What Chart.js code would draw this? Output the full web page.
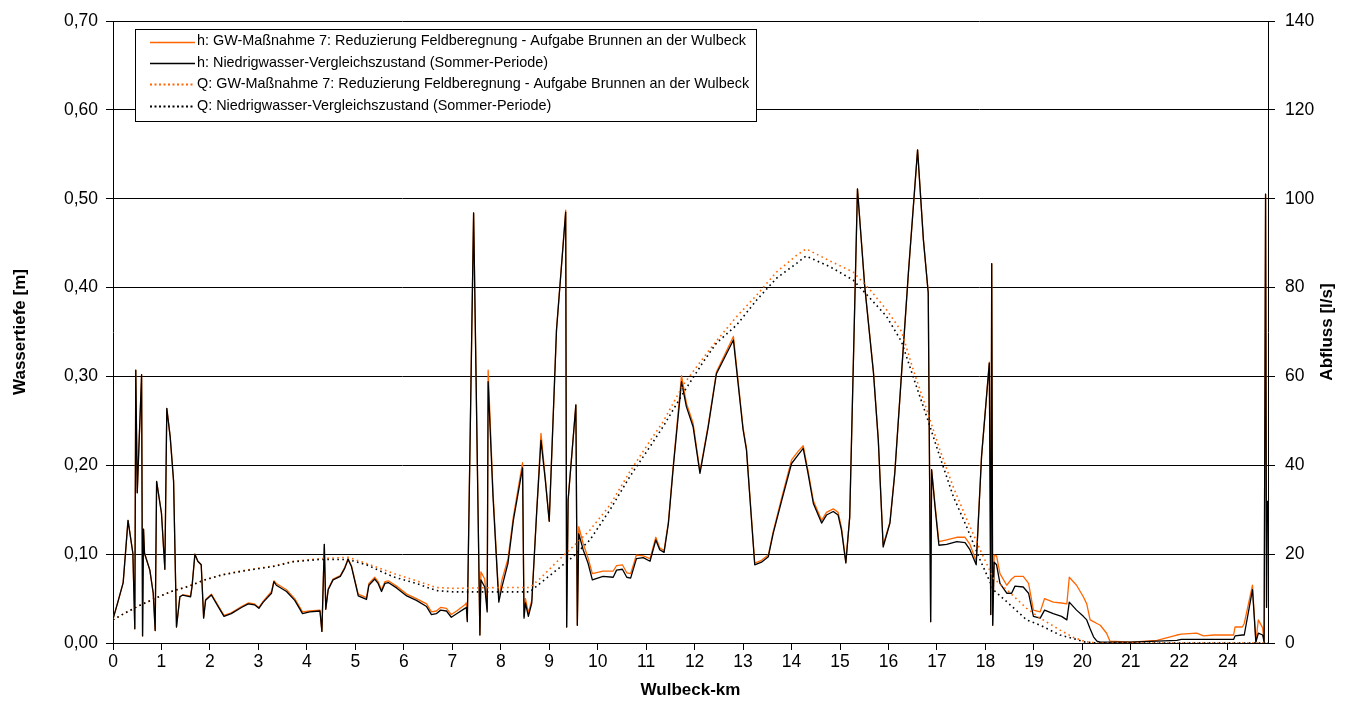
<!DOCTYPE html>
<html lang="de">
<head>
<meta charset="UTF-8">
<title>Wulbeck - Wassertiefe und Abfluss</title>
<style>
  html, body { margin: 0; padding: 0; background: #fff; }
</style>
</head>
<body>
<canvas id="myChart" width="1350" height="702"></canvas>

<script src="https://cdn.jsdelivr.net/npm/chart.js"></script>
<script>
// Stationierung der Wassertiefen [km]
const kmH = [
  0.00, 0.10, 0.21, 0.31, 0.41, 0.45, 0.47, 0.50, 0.59, 0.61,
  0.63, 0.65, 0.76, 0.83, 0.87, 0.90, 1.00, 1.07, 1.11, 1.18,
  1.25, 1.31, 1.38, 1.44, 1.60, 1.63, 1.69, 1.75, 1.82, 1.87,
  1.91, 2.03, 2.17, 2.29, 2.44, 2.65, 2.79, 2.92, 3.01, 3.10,
  3.27, 3.32, 3.37, 3.58, 3.75, 3.91, 4.06, 4.27, 4.31, 4.36,
  4.39, 4.44, 4.54, 4.69, 4.78, 4.85, 4.92, 5.01, 5.06, 5.23,
  5.28, 5.40, 5.47, 5.54, 5.61, 5.68, 5.85, 6.06, 6.26, 6.47,
  6.57, 6.67, 6.76, 6.88, 6.98, 7.09, 7.26, 7.29, 7.31, 7.44,
  7.57, 7.59, 7.67, 7.72, 7.74, 7.84, 7.96, 8.02, 8.15, 8.26,
  8.45, 8.48, 8.51, 8.57, 8.64, 8.74, 8.83, 8.92, 9.00, 9.15,
  9.34, 9.36, 9.39, 9.55, 9.58, 9.61, 9.70, 9.80, 9.89, 10.11,
  10.32, 10.39, 10.51, 10.60, 10.68, 10.80, 10.94, 11.08, 11.20, 11.28,
  11.37, 11.46, 11.56, 11.73, 11.83, 11.97, 12.11, 12.28, 12.45, 12.80,
  13.00, 13.07, 13.24, 13.38, 13.52, 13.62, 13.80, 14.00, 14.14, 14.24,
  14.34, 14.45, 14.62, 14.72, 14.86, 14.96, 15.03, 15.12, 15.20, 15.36,
  15.51, 15.69, 15.79, 15.89, 16.03, 16.13, 16.27, 16.41, 16.60, 16.72,
  16.82, 16.87, 16.89, 16.96, 17.04, 17.20, 17.41, 17.58, 17.68, 17.81,
  17.92, 18.08, 18.11, 18.13, 18.15, 18.18, 18.23, 18.30, 18.44, 18.54,
  18.61, 18.78, 18.89, 18.99, 19.13, 19.22, 19.40, 19.57, 19.68, 19.73,
  19.88, 20.02, 20.09, 20.16, 20.23, 20.30, 20.37, 20.50, 20.57, 21.00,
  21.54, 21.95, 22.04, 22.36, 22.50, 22.71, 23.12, 23.15, 23.30, 23.34,
  23.51, 23.58, 23.63, 23.72, 23.75, 23.78, 23.80, 23.82
];

// h: Niedrigwasser-Vergleichszustand [m]
const hVergleich = [
  0.027, 0.046, 0.068, 0.138, 0.101, 0.016, 0.307, 0.169, 0.302, 0.008,
  0.128, 0.101, 0.082, 0.056, 0.014, 0.182, 0.146, 0.083, 0.264, 0.232,
  0.182, 0.018, 0.052, 0.054, 0.052, 0.063, 0.100, 0.092, 0.088, 0.028,
  0.048, 0.054, 0.041, 0.030, 0.033, 0.040, 0.044, 0.043, 0.039, 0.046,
  0.056, 0.069, 0.065, 0.058, 0.048, 0.033, 0.035, 0.036, 0.013, 0.111,
  0.038, 0.060, 0.071, 0.075, 0.084, 0.094, 0.086, 0.065, 0.053, 0.049,
  0.065, 0.072, 0.067, 0.058, 0.067, 0.068, 0.062, 0.053, 0.048, 0.041,
  0.032, 0.033, 0.037, 0.036, 0.029, 0.033, 0.039, 0.040, 0.024, 0.484,
  0.009, 0.071, 0.063, 0.035, 0.294, 0.165, 0.046, 0.062, 0.090, 0.138,
  0.197, 0.028, 0.045, 0.030, 0.045, 0.146, 0.228, 0.183, 0.137, 0.352,
  0.485, 0.018, 0.161, 0.268, 0.020, 0.123, 0.105, 0.090, 0.071, 0.075,
  0.074, 0.082, 0.083, 0.074, 0.073, 0.095, 0.096, 0.092, 0.116, 0.105,
  0.102, 0.135, 0.198, 0.294, 0.266, 0.243, 0.191, 0.243, 0.303, 0.341,
  0.240, 0.217, 0.088, 0.091, 0.097, 0.123, 0.161, 0.202, 0.212, 0.219,
  0.191, 0.157, 0.135, 0.144, 0.148, 0.144, 0.127, 0.090, 0.142, 0.511,
  0.401, 0.304, 0.228, 0.108, 0.135, 0.191, 0.304, 0.416, 0.555, 0.454,
  0.394, 0.024, 0.195, 0.153, 0.110, 0.111, 0.114, 0.113, 0.105, 0.088,
  0.210, 0.315, 0.032, 0.427, 0.020, 0.091, 0.088, 0.067, 0.056, 0.056,
  0.064, 0.063, 0.056, 0.030, 0.028, 0.037, 0.033, 0.030, 0.026, 0.046,
  0.037, 0.030, 0.026, 0.016, 0.007, 0.002, 0.001, 0.001, 0.001, 0.001,
  0.002, 0.003, 0.004, 0.004, 0.004, 0.004, 0.004, 0.008, 0.009, 0.009,
  0.060, 0.001, 0.011, 0.009, 0.001, 0.505, 0.040, 0.160
];

// h: GW-Massnahme 7 [m]
const hMassnahme = [
  0.027, 0.046, 0.068, 0.138, 0.101, 0.016, 0.307, 0.169, 0.302, 0.008,
  0.128, 0.101, 0.082, 0.056, 0.014, 0.182, 0.146, 0.083, 0.264, 0.232,
  0.182, 0.018, 0.052, 0.054, 0.053, 0.064, 0.100, 0.092, 0.088, 0.029,
  0.049, 0.055, 0.042, 0.031, 0.034, 0.041, 0.045, 0.044, 0.040, 0.047,
  0.058, 0.070, 0.067, 0.060, 0.050, 0.035, 0.036, 0.037, 0.013, 0.111,
  0.038, 0.061, 0.072, 0.076, 0.085, 0.095, 0.087, 0.066, 0.055, 0.051,
  0.067, 0.074, 0.069, 0.060, 0.069, 0.070, 0.064, 0.055, 0.050, 0.044,
  0.035, 0.036, 0.040, 0.039, 0.032, 0.036, 0.043, 0.045, 0.026, 0.484,
  0.009, 0.080, 0.072, 0.038, 0.307, 0.170, 0.050, 0.070, 0.095, 0.142,
  0.203, 0.030, 0.050, 0.034, 0.048, 0.146, 0.236, 0.185, 0.137, 0.352,
  0.487, 0.018, 0.161, 0.268, 0.020, 0.131, 0.112, 0.096, 0.078, 0.081,
  0.081, 0.087, 0.088, 0.079, 0.078, 0.099, 0.098, 0.095, 0.119, 0.107,
  0.104, 0.137, 0.200, 0.301, 0.270, 0.247, 0.193, 0.245, 0.305, 0.345,
  0.242, 0.219, 0.090, 0.093, 0.099, 0.125, 0.164, 0.206, 0.216, 0.222,
  0.194, 0.160, 0.138, 0.147, 0.151, 0.147, 0.130, 0.091, 0.142, 0.511,
  0.402, 0.305, 0.228, 0.110, 0.136, 0.192, 0.304, 0.416, 0.555, 0.454,
  0.394, 0.024, 0.195, 0.156, 0.114, 0.116, 0.119, 0.119, 0.111, 0.092,
  0.210, 0.316, 0.032, 0.427, 0.020, 0.099, 0.098, 0.078, 0.065, 0.072,
  0.075, 0.075, 0.067, 0.037, 0.035, 0.050, 0.046, 0.045, 0.044, 0.074,
  0.065, 0.052, 0.044, 0.026, 0.024, 0.022, 0.020, 0.011, 0.002, 0.001,
  0.003, 0.009, 0.010, 0.011, 0.008, 0.009, 0.009, 0.018, 0.018, 0.022,
  0.065, 0.001, 0.026, 0.017, 0.001, 0.505, 0.040, null
];

// Stationierung der Abfluesse [km]
const kmQ = [
  0.00, 0.24, 0.52, 0.86, 1.20, 1.55, 1.89, 2.24, 2.58, 2.92,
  3.34, 3.72, 4.27, 4.85, 5.23, 5.78, 6.26, 6.67, 7.02, 7.98,
  8.60, 8.81, 9.15, 9.49, 9.84, 10.25, 10.66, 11.08, 11.35, 11.76,
  12.18, 12.45, 12.87, 13.28, 13.69, 14.11, 14.30, 14.79, 15.27, 15.62,
  15.96, 16.27, 16.51, 16.79, 17.06, 17.34, 17.61, 17.89, 18.17, 18.44,
  18.85, 19.13, 19.54, 19.81, 20.06, 20.30, 23.83
];

// Q: Niedrigwasser-Vergleichszustand [l/s]
const qVergleich = [
  5.2, 6.7, 8.3, 10.0, 11.6, 12.7, 14.2, 15.3, 16.0, 16.6,
  17.3, 18.3, 18.8, 18.8, 17.6, 14.9, 13.4, 11.8, 11.5, 11.5,
  11.5, 13.4, 16.4, 19.4, 23.2, 29.9, 37.4, 44.2, 48.7, 56.2,
  63.3, 67.5, 71.6, 77.2, 82.1, 85.5, 87.1, 84.7, 81.7, 77.6,
  73.5, 67.8, 59.9, 50.9, 41.9, 32.9, 26.2, 18.7, 11.9, 9.3,
  5.2, 4.0, 1.8, 1.0, 0.2, 0, 0
];

// Q: GW-Massnahme 7 [l/s]
const qMassnahme = [
  5.2, 6.7, 8.3, 10.0, 11.6, 12.8, 14.2, 15.3, 16.1, 16.7,
  17.4, 18.4, 19.0, 19.3, 17.9, 15.7, 14.0, 12.5, 12.3, 12.5,
  12.5, 14.5, 18.2, 21.7, 25.4, 31.0, 38.5, 45.5, 49.8, 58.0,
  64.2, 68.0, 73.5, 78.3, 83.5, 87.3, 88.7, 86.0, 83.5, 79.5,
  75.0, 70.1, 61.5, 52.5, 43.5, 35.0, 28.0, 21.0, 14.5, 12.0,
  7.8, 5.6, 2.9, 1.3, 0.3, 0, 0
];

// Beschriftung der km-Achse (je Teilstrich eine)
const xTickLabels = ['0', '1', '2', '3', '4', '5', '6', '7', '8', '9', '10', '11',
  '12', '13', '14', '15', '16', '17', '18', '19', '20', '21', '22', '24'];

const seriesLabels = [
  'h: GW-Maßnahme 7: Reduzierung Feldberegnung - Aufgabe Brunnen an der Wulbeck',
  'h: Niedrigwasser-Vergleichszustand (Sommer-Periode)',
  'Q: GW-Maßnahme 7: Reduzierung Feldberegnung - Aufgabe Brunnen an der Wulbeck',
  'Q: Niedrigwasser-Vergleichszustand (Sommer-Periode)'
];

const ORANGE = '#ff6600';
const FONT = '"Liberation Sans", Arial, sans-serif';

function pairs(xs, ys) {
  return xs.map((x, i) => ({ x: x, y: ys[i] }));
}

// Legende als Kasten im Diagramm
const legendBox = {
  id: 'legendBox',
  afterDraw(chart) {
    const ctx = chart.ctx;
    const area = chart.chartArea;
    const left = area.left + 22, top = area.top + 8;
    const w = 621, h = 92;
    ctx.save();
    ctx.fillStyle = '#fff';
    ctx.fillRect(left, top, w, h);
    ctx.strokeStyle = '#000';
    ctx.lineWidth = 1;
    ctx.strokeRect(left + 0.5, top + 0.5, w, h);
    ctx.font = '14.4px ' + FONT;
    ctx.textBaseline = 'middle';
    chart.data.datasets.forEach((ds, i) => {
      const y = top + 12.5 + i * 21.4;
      ctx.strokeStyle = ds.borderColor;
      ctx.lineWidth = ds.borderDash ? 2 : 1.3;
      ctx.setLineDash(ds.borderDash ? [2, 2.5] : []);
      ctx.beginPath();
      ctx.moveTo(left + 15, Math.round(y) + 0.5);
      ctx.lineTo(left + 60, Math.round(y) + 0.5);
      ctx.stroke();
      ctx.setLineDash([]);
      ctx.fillStyle = '#000';
      ctx.fillText(ds.label, left + 62, y);
    });
    ctx.restore();
  }
};

// Titel der rechten Achse (von unten nach oben gelesen)
const rightTitle = {
  id: 'rightTitle',
  afterDraw(chart) {
    const ctx = chart.ctx;
    const area = chart.chartArea;
    ctx.save();
    ctx.translate(chart.scales.y1.right - 23, (area.top + area.bottom) / 2);
    ctx.rotate(-Math.PI / 2);
    ctx.font = 'bold 17px ' + FONT;
    ctx.fillStyle = '#000';
    ctx.textAlign = 'center';
    ctx.textBaseline = 'middle';
    ctx.fillText('Abfluss [l/s]', 0, 0);
    ctx.restore();
  }
};

const ctx = document.getElementById('myChart');

new Chart(ctx, {
  type: 'line',
  data: {
    datasets: [{
      label: seriesLabels[0],
      data: pairs(kmH, hMassnahme),
      borderColor: ORANGE,
      borderWidth: 1.3,
      yAxisID: 'y',
      order: 4
    }, {
      label: seriesLabels[1],
      data: pairs(kmH, hVergleich),
      borderColor: '#000',
      borderWidth: 1.3,
      yAxisID: 'y',
      order: 3
    }, {
      label: seriesLabels[2],
      data: pairs(kmQ, qMassnahme),
      borderColor: ORANGE,
      borderWidth: 1.6,
      borderDash: [1.6, 3.4],
      yAxisID: 'y1',
      order: 2
    }, {
      label: seriesLabels[3],
      data: pairs(kmQ, qVergleich),
      borderColor: '#000',
      borderWidth: 1.6,
      borderDash: [1.6, 3.4],
      yAxisID: 'y1',
      order: 1
    }]
  },
  options: {
    responsive: false,
    animation: false,
    events: [],
    layout: { padding: { top: 21 } },
    elements: {
      point: { radius: 0 },
      line: { tension: 0, borderJoinStyle: 'round' }
    },
    scales: {
      x: {
        type: 'linear',
        min: 0,
        max: 23.83,
        afterBuildTicks(scale) {
          scale.ticks = xTickLabels.map((t, i) => ({ value: i }));
        },
        afterFit(scale) { scale.height = 59; },
        ticks: {
          color: '#000',
          font: { family: FONT, size: 17.5 },
          padding: 2,
          maxRotation: 0,
          autoSkip: false,
          callback: (v, i) => xTickLabels[i]
        },
        grid: { drawOnChartArea: false, color: '#000', tickLength: 7 },
        border: { color: '#000' },
        title: {
          display: true,
          text: 'Wulbeck-km',
          color: '#000',
          font: { family: FONT, size: 17, weight: 'bold' },
          padding: { top: 0, bottom: 1 }
        }
      },
      y: {
        position: 'left',
        min: 0,
        max: 0.7,
        afterFit(scale) { scale.width = 113; },
        ticks: {
          stepSize: 0.1,
          color: '#000',
          font: { family: FONT, size: 17.5 },
          padding: 8,
          callback: (v) => v.toFixed(2).replace('.', ',')
        },
        grid: { color: '#000', tickLength: 7 },
        border: { color: '#000' },
        title: {
          display: true,
          text: 'Wassertiefe [m]',
          color: '#000',
          font: { family: FONT, size: 17, weight: 'bold' },
          padding: { top: 10, bottom: 0 }
        }
      },
      y1: {
        position: 'right',
        min: 0,
        max: 140,
        afterFit(scale) { scale.width = 82; },
        ticks: {
          stepSize: 20,
          color: '#000',
          font: { family: FONT, size: 17.5 },
          padding: 10
        },
        grid: { drawOnChartArea: false, color: '#000', tickLength: 7 },
        border: { color: '#000' }
      }
    },
    plugins: {
      legend: { display: false },
      tooltip: { enabled: false }
    }
  },
  plugins: [legendBox, rightTitle]
});
</script>
</body>
</html>
